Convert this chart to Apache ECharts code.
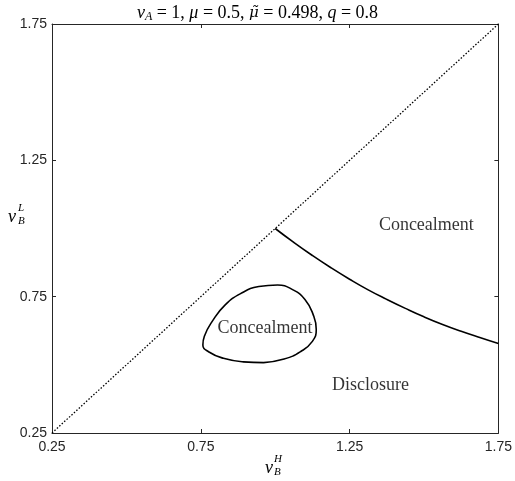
<!DOCTYPE html>
<html><head><meta charset="utf-8">
<script src="https://cdn.jsdelivr.net/npm/echarts@6/dist/echarts.min.js"></script>
<style>html,body{margin:0;padding:0;background:#fff}#c{width:515px;height:481px}</style>
</head><body><div id="c"></div>
<script>
const tickValues = [0.25, 0.75, 1.25, 1.75];
const diagonal = [[0.25, 0.25], [1.75, 1.75]];
const boundaryX = [1.0, 1.0625, 1.125, 1.1875, 1.25, 1.3125, 1.375, 1.4375, 1.5, 1.5625, 1.625, 1.6875, 1.75];
const boundaryY = [1.0, 0.949, 0.901, 0.856, 0.814, 0.775, 0.740, 0.707, 0.676, 0.648, 0.623, 0.600, 0.578];
const loopX = [0.961, 0.893, 0.826, 0.776, 0.757, 0.762, 0.790, 0.832, 0.885, 0.945, 1.008, 1.060, 1.100, 1.127, 1.138, 1.125, 1.086, 1.030, 0.961];
const loopY = [0.508, 0.511, 0.524, 0.548, 0.573, 0.605, 0.662, 0.720, 0.762, 0.787, 0.793, 0.775, 0.740, 0.686, 0.630, 0.586, 0.549, 0.521, 0.508];
const regionNames = ['Concealment', 'Concealment', 'Disclosure'];
const regionX = [0.966, 1.508, 1.32];
const regionY = [0.635, 1.013, 0.426];

const serif = 'Liberation Serif';
const sans = 'Liberation Sans';
const zip = (a, b) => a.map((v, i) => [v, b[i]]);

const chart = echarts.init(document.getElementById('c'), null, {renderer: 'canvas'});
const axisCommon = {
  type: 'value', min: 0.25, max: 1.75,
  axisLine: {show: true, onZero: false, lineStyle: {color: '#262626', width: 1}},
  splitLine: {show: false},
};
chart.setOption({
  animation: false,
  backgroundColor: '#fff',
  title: {
    text: '{i|v}{s|A}{n| = 1, }{i|μ}{n| = 0.5, }{t|μ̃}{n| = 0.498, }{i|q}{n| = 0.8}',
    left: 'center', top: -2,
    textStyle: {
      fontWeight: 'normal',
      rich: {
        i: {fontFamily: serif, fontStyle: 'italic', fontWeight: 'normal', fontSize: 18, color: '#000'},
        t: {fontFamily: 'DejaVu Serif', fontStyle: 'italic', fontWeight: 'normal', fontSize: 15, color: '#000'},
        s: {fontFamily: serif, fontStyle: 'italic', fontWeight: 'normal', fontSize: 12, color: '#000', padding: [8, 0, 0, 0]},
        n: {fontFamily: serif, fontWeight: 'normal', fontSize: 18, color: '#000'}
      }
    }
  },
  grid: {left: 52, right: 16, top: 24, bottom: 48, containLabel: false},
  xAxis: [
    Object.assign({}, axisCommon, {
      position: 'bottom',
      axisTick: {show: true, inside: true, length: 4, customValues: tickValues, lineStyle: {color: '#262626'}},
      axisLabel: {show: true, customValues: tickValues, fontFamily: sans, fontSize: 14, color: '#262626', margin: 7,
        formatter: v => v.toFixed(2)}
    }),
    Object.assign({}, axisCommon, {
      position: 'top',
      axisTick: {show: true, inside: true, length: 4, customValues: tickValues, lineStyle: {color: '#262626'}},
      axisLabel: {show: false}
    })
  ],
  yAxis: [
    Object.assign({}, axisCommon, {
      position: 'left',
      axisTick: {show: true, inside: true, length: 4, customValues: tickValues, lineStyle: {color: '#262626'}},
      axisLabel: {show: true, customValues: tickValues, fontFamily: sans, fontSize: 14, color: '#262626', margin: 5,
        formatter: v => v.toFixed(2)}
    }),
    Object.assign({}, axisCommon, {
      position: 'right',
      axisTick: {show: true, inside: true, length: 4, customValues: tickValues, lineStyle: {color: '#262626'}},
      axisLabel: {show: false}
    })
  ],
  graphic: [
    {type: 'text', left: 265, top: 459, style: {text: 'v', font: 'italic 18px "Liberation Serif"', fill: '#000'}},
    {type: 'text', left: 274, top: 454, style: {text: 'H', font: 'italic 11px "Liberation Serif"', fill: '#000'}},
    {type: 'text', left: 274, top: 467, style: {text: 'B', font: 'italic 11px "Liberation Serif"', fill: '#000'}},
    {type: 'text', left: 8, top: 208, style: {text: 'v', font: 'italic 18px "Liberation Serif"', fill: '#000'}},
    {type: 'text', left: 18, top: 203, style: {text: 'L', font: 'italic 11px "Liberation Serif"', fill: '#000'}},
    {type: 'text', left: 18, top: 216, style: {text: 'B', font: 'italic 11px "Liberation Serif"', fill: '#000'}}
  ],
  series: [
    {type: 'line', data: diagonal, symbol: 'none', lineStyle: {color: '#000', width: 1.3, type: [1.5, 1.8]}, z: 2},
    {type: 'line', data: zip(boundaryX, boundaryY), symbol: 'none', smooth: true, lineStyle: {color: '#000', width: 1.6}},
    {type: 'line', data: zip(loopX, loopY), symbol: 'none', smooth: true, lineStyle: {color: '#000', width: 1.6}},
    {type: 'scatter', symbolSize: 0, silent: true,
      data: regionNames.map((n, i) => ({name: n, value: [regionX[i], regionY[i]]})),
      label: {show: true, position: 'inside', formatter: p => p.name, fontFamily: serif, fontSize: 18, color: '#000'}}
  ]
});
</script>
</body></html>
